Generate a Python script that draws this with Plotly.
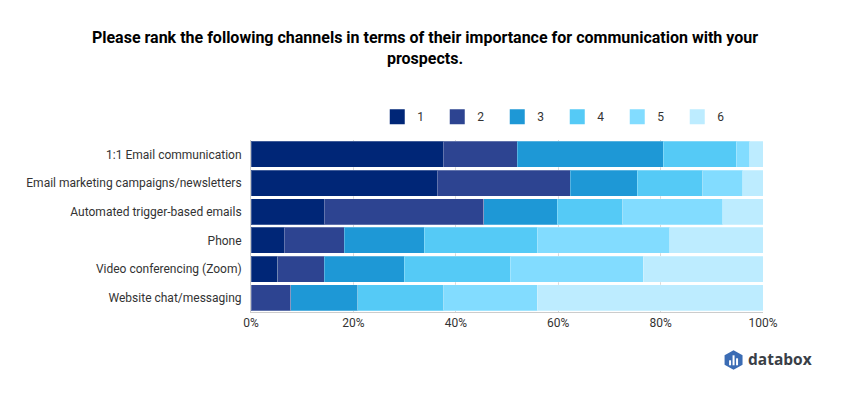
import plotly.graph_objects as go

categories = ["1:1 Email communication", "Email marketing campaigns/newsletters",
              "Automated trigger-based emails", "Phone",
              "Video conferencing (Zoom)", "Website chat/messaging"]
rank_names = ["1", "2", "3", "4", "5", "6"]
colors = ["#002677", "#2d4491", "#1e98d6", "#55caf6", "#82dcff", "#bdecff"]

rank_1 = [37.5, 36.4, 14.3, 6.5, 5.2, 0.0]
rank_2 = [14.5, 26.0, 31.2, 11.7, 9.1, 7.8]
rank_3 = [28.5, 13.0, 14.3, 15.6, 15.6, 13.0]
rank_4 = [14.3, 12.8, 12.8, 22.1, 20.7, 16.8]
rank_5 = [2.6, 7.8, 19.5, 25.9, 26.0, 18.3]
rank_6 = [2.6, 4.0, 7.9, 18.2, 23.4, 44.1]
series = [rank_1, rank_2, rank_3, rank_4, rank_5, rank_6]

tick_vals = [0, 20, 40, 60, 80, 100]
tick_text = ["0%", "20%", "40%", "60%", "80%", "100%"]
title_text = ("Please rank the following channels in terms of their importance "
              "for communication with your<br>prospects.")

fig = go.Figure()
for name, vals, col in zip(rank_names, series, colors):
    fig.add_trace(go.Bar(y=categories, x=vals, name=name, orientation="h", showlegend=False,
                         legendgroup=name,
                         marker=dict(color=col, line=dict(color="rgba(255,255,255,0.25)", width=1))))
    # legend key: square swatch of the same colour
    fig.add_trace(go.Scatter(x=[None], y=[None], name=name, mode="markers", legendgroup=name,
                             marker=dict(symbol="square", size=15, color=col)))

PAGE = 8            # page margin of the browser body
W, H = 834, 384     # figure size inside the 850x400 window
L, R, T, B = 250.5 - PAGE, 763.5 - PAGE, 139.7 - PAGE, 311.7 - PAGE
px = lambda x: (x - PAGE - L) / (R - L)
py = lambda y: (B - (y - PAGE)) / (B - T)

shapes = [
    dict(type="path", xref="paper", yref="paper", line=dict(width=0), fillcolor="#3b6cb4",
         path=f"M{px(734)},{py(350)} L{px(743)},{py(355)} L{px(743)},{py(364.5)} "
              f"L{px(734)},{py(369.5)} L{px(725)},{py(364.5)} L{px(725)},{py(355)} Z"),
]
for x0, y0 in [(729.5, 360), (733, 355), (736.5, 358)]:
    shapes.append(dict(type="rect", xref="paper", yref="paper", line=dict(width=0),
                       fillcolor="white", x0=px(x0), x1=px(x0 + 2), y0=py(y0), y1=py(365)))

fig.update_layout(
    width=W, height=H, barmode="stack", bargap=0.093,
    paper_bgcolor="white", plot_bgcolor="white",
    font=dict(family="Roboto", size=12, color="#333333"),
    margin=dict(l=L, r=W - R, t=T, b=H - B, autoexpand=False),
    title=dict(text=title_text, x=0.5, xanchor="center", y=1 - 35 / H, yanchor="top",
               font=dict(family="Roboto", size=16, color="#000000", weight="bold")),
    legend=dict(orientation="h", x=px(377), xanchor="left", y=py(102), yanchor="top",
                traceorder="normal", entrywidth=15, entrywidthmode="pixels",
                itemclick=False, itemdoubleclick=False,
                font=dict(size=12, color="#333333"), bgcolor="rgba(0,0,0,0)"),
    xaxis=dict(range=[0, 100], tickvals=tick_vals, ticktext=tick_text,
               showgrid=True, gridcolor="#d9d9d9", gridwidth=1,
               showline=True, linecolor="#cccccc", zeroline=False, ticks="",
               tickfont=dict(size=12, color="#333333"), automargin=False),
    yaxis=dict(autorange="reversed", showline=True, linecolor="#cccccc", ticks="outside",
               ticklen=6, tickcolor="rgba(0,0,0,0)", showgrid=False,
               tickfont=dict(size=12, color="#333333"), automargin=False),
    shapes=shapes,
    annotations=[dict(text="databox", xref="paper", yref="paper", x=px(746), y=py(359),
                      xanchor="left", yanchor="middle", showarrow=False,
                      font=dict(family="Open Sans", size=15.5, color="#3a3f47", weight="bold"))],
)
fig.write_html("out.html")
